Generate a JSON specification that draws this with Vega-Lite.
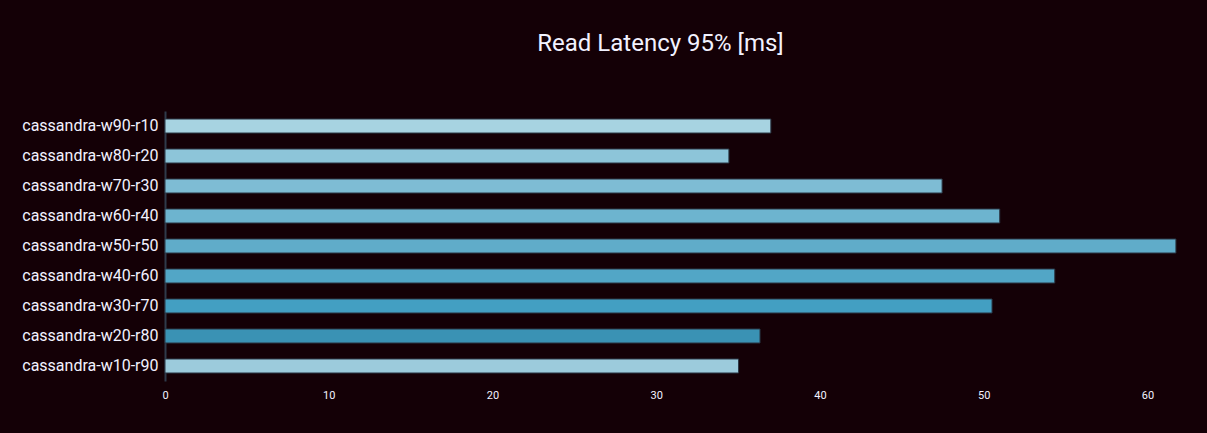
{
  "$schema": "https://vega.github.io/schema/vega-lite/v6.json",
  "autosize": "none",
  "width": 1025,
  "height": 270,
  "padding": {"left": 165, "top": 111, "right": 17, "bottom": 52},
  "background": "#140006",
  "title": {
    "text": "Read Latency 95% [ms]",
    "font": "Roboto",
    "fontSize": 24,
    "fontWeight": "normal",
    "color": "#f2f2ff",
    "anchor": "middle",
    "dx": -17,
    "offset": 55
  },
  "data": {
    "values": [
      {"name": "cassandra-w90-r10", "value": 37.0, "c": "#a7d3e1"},
      {"name": "cassandra-w80-r20", "value": 34.44, "c": "#8dc5d9"},
      {"name": "cassandra-w70-r30", "value": 47.46, "c": "#7ebcd4"},
      {"name": "cassandra-w60-r40", "value": 50.98, "c": "#6db4cf"},
      {"name": "cassandra-w50-r50", "value": 61.74, "c": "#60acc9"},
      {"name": "cassandra-w40-r60", "value": 54.34, "c": "#52a6c6"},
      {"name": "cassandra-w30-r70", "value": 50.51, "c": "#439fc2"},
      {"name": "cassandra-w20-r80", "value": 36.34, "c": "#3a92b4"},
      {"name": "cassandra-w10-r90", "value": 35.03, "c": "#9ccbdc"}
    ]
  },
  "mark": {"type": "bar", "stroke": "#2a3644", "strokeWidth": 1},
  "encoding": {
    "y": {
      "field": "name",
      "type": "nominal",
      "sort": null,
      "scale": {"paddingInner": 0.533, "paddingOuter": 0.267},
      "axis": {
        "title": null,
        "ticks": false,
        "labelFont": "Roboto",
        "labelFontSize": 16,
        "labelColor": "#f2f2ff",
        "labelPadding": 7,
        "domainColor": "#2e3a4a",
        "domainWidth": 2,
        "grid": false
      }
    },
    "x": {
      "field": "value",
      "type": "quantitative",
      "scale": {"domain": [0, 62.6], "nice": false, "zero": true},
      "axis": {
        "title": null,
        "values": [0, 10, 20, 30, 40, 50, 60],
        "ticks": false,
        "domain": false,
        "grid": false,
        "labelFlush": false,
        "labelFont": "Roboto",
        "labelFontSize": 11,
        "labelColor": "#f2f2ff",
        "labelPadding": 8
      }
    },
    "color": {"field": "c", "type": "nominal", "scale": null, "legend": null}
  },
  "config": {"view": {"stroke": null}}
}
